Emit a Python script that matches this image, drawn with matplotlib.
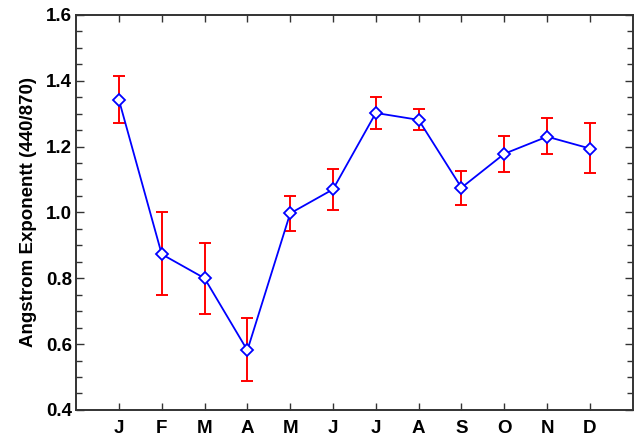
import numpy as np
import matplotlib.pyplot as plt
from matplotlib.ticker import MultipleLocator

# monthly Angstrom exponent values
months = ["J", "F", "M", "A", "M", "J", "J", "A", "S", "O", "N", "D"]
angstrom = [1.342, 0.873, 0.800, 0.581, 0.997, 1.070, 1.302, 1.281, 1.075, 1.178, 1.230, 1.194]
err_top = [1.413, 1.000, 0.908, 0.678, 1.051, 1.131, 1.351, 1.314, 1.127, 1.232, 1.288, 1.270]
err_bottom = [1.272, 0.749, 0.691, 0.487, 0.944, 1.007, 1.254, 1.250, 1.022, 1.123, 1.176, 1.119]

x = np.arange(1, len(months) + 1)
y = np.array(angstrom)
yerr = [y - np.array(err_bottom), np.array(err_top) - y]

plt.rcParams["font.family"] = ["Liberation Sans", "DejaVu Sans"]

fig = plt.figure(figsize=(6.34, 4.37), dpi=100)
ax = fig.add_axes([0.12, 0.062, 0.878, 0.904])

ax.errorbar(x, y, yerr=yerr, fmt="none", ecolor="red", elinewidth=1.4,
            capsize=4, capthick=1.4, zorder=2)
ax.plot(x, y, color="blue", linewidth=1.3, marker="D", markersize=6.5,
        markerfacecolor="white", markeredgecolor="blue", markeredgewidth=1.3, zorder=3)

ax.set_xlim(0, 13)
ax.set_xticks(x)
ax.set_xticklabels(months, fontsize=13.5, fontweight="bold")
ticks = np.arange(0.4, 1.61, 0.2)
ax.set_yticks(ticks)
ax.set_yticklabels([f"{v:.1f}" for v in ticks], fontsize=13.5, fontweight="bold")
ax.yaxis.set_minor_locator(MultipleLocator(0.05))
ax.set_ylim(0.4, 1.6)
ax.set_ylabel("Angstrom Exponentt (440/870)", fontsize=13.5, fontweight="bold", labelpad=6)

ax.tick_params(axis="both", which="both", direction="in", top=True, right=True,
               colors="#333333", labelcolor="black")
ax.tick_params(axis="x", which="major", length=5, width=1, pad=7)
ax.tick_params(axis="y", which="major", length=6, width=1, pad=3)
ax.tick_params(axis="y", which="minor", length=4, width=1)
for s in ax.spines.values():
    s.set_linewidth(1.4)
    s.set_color("#333333")

fig.savefig("out.png", dpi=100)
